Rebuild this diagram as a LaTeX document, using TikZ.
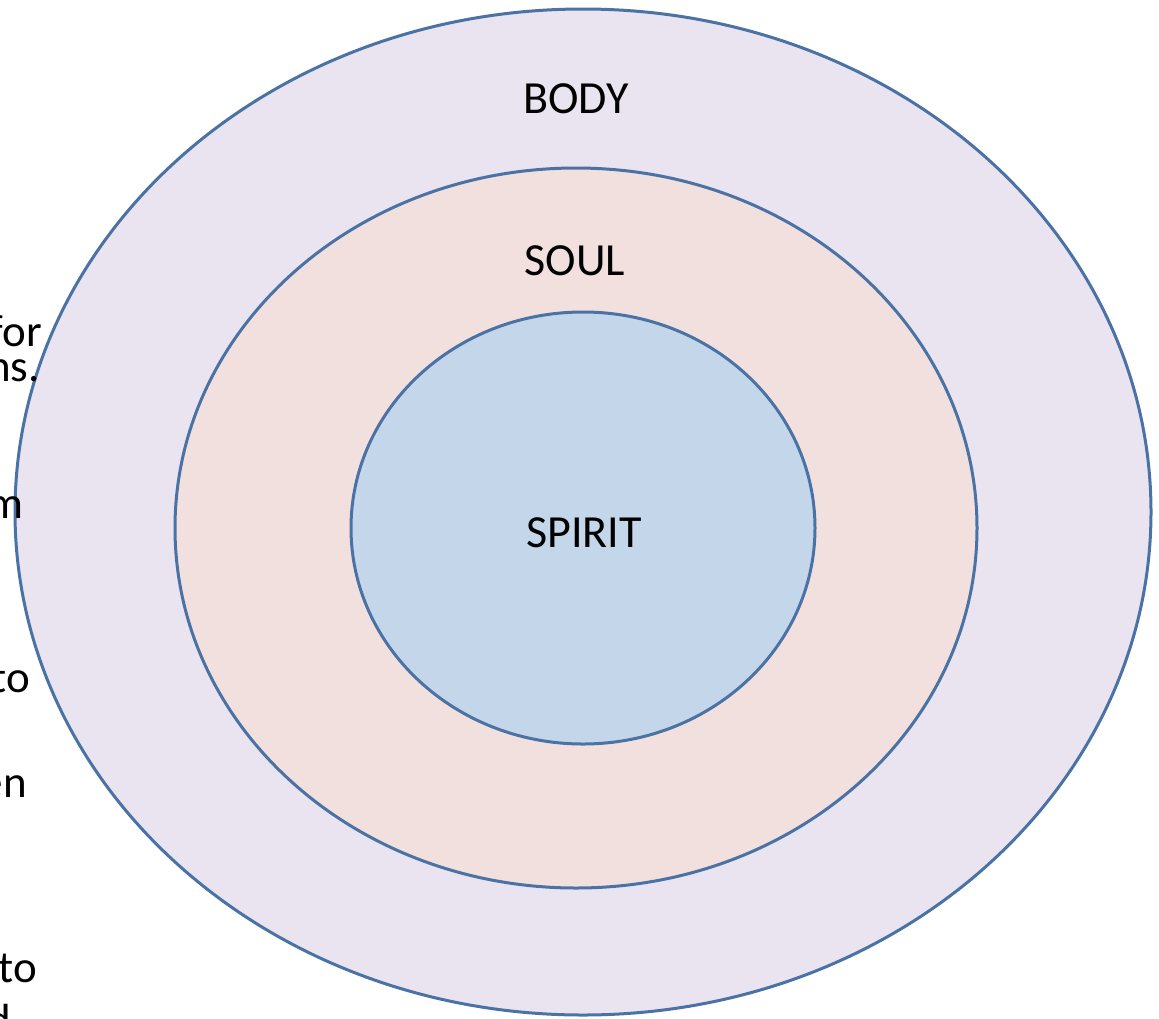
\documentclass[tikz,border=0pt]{standalone}
\usepackage{fontspec}
\setmainfont{Carlito}
\usetikzlibrary{shapes.geometric}
\definecolor{edge}{HTML}{4A72A4}
\definecolor{bodyfill}{HTML}{E9E4F0}
\definecolor{soulfill}{HTML}{F2E0DF}
\definecolor{spiritfill}{HTML}{C4D7EA}
\tikzset{
  ring/.style={ellipse, draw=edge, line width=3pt, inner sep=0pt},
  lbl/.style={anchor=base, inner sep=0pt, font=\fontsize{46}{50}\selectfont},
  frag/.style={anchor=base east, inner sep=0pt, font=\fontsize{45}{50}\selectfont}
}
\begin{document}
\begin{tikzpicture}[x=1pt,y=-1pt]
\useasboundingbox (0,0) rectangle (1159,1018);
\clip (0,0) rectangle (1159,1018);
\fill[white] (0,0) rectangle (1159,1018);
\node[ring, fill=bodyfill, minimum width=1136pt, minimum height=1006pt] (body) at (583,512) {};
\node[ring, fill=soulfill, minimum width=802pt, minimum height=720pt] (soul) at (576,528) {};
\node[ring, fill=spiritfill, minimum width=464pt, minimum height=432pt] (spirit) at (583,528) {};
\node[lbl] (tbody) at (576,113) {BODY};
\node[lbl] (tsoul) at (575,275) {SOUL};
\node[lbl] (tspirit) at (584,547) {SPIRIT};
\node[frag] (f1) at (42,346) {for};
\node[frag] (f2) at (40,381) {ns.};
\node[frag] (f3) at (24,518) {m};
\node[frag] (f4) at (30,692) {to};
\node[frag] (f5) at (27,797) {en};
\node[frag] (f6) at (37,982) {to};
\node[frag] (f7) at (11,1035) {d};
\end{tikzpicture}
\end{document}
